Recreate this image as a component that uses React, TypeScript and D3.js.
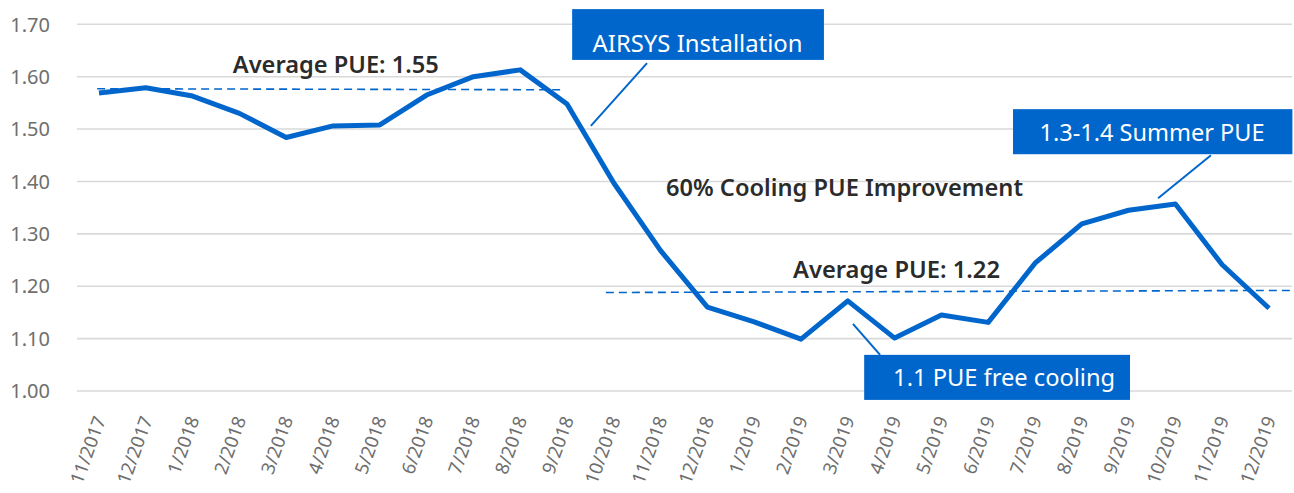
import React from "react";
import * as d3 from "d3";

const months = [
  "11/2017", "12/2017", "1/2018", "2/2018", "3/2018", "4/2018", "5/2018", "6/2018",
  "7/2018", "8/2018", "9/2018", "10/2018", "11/2018", "12/2018", "1/2019", "2/2019",
  "3/2019", "4/2019", "5/2019", "6/2019", "7/2019", "8/2019", "9/2019", "10/2019",
  "11/2019", "12/2019",
];
const pue = [
  1.569, 1.579, 1.563, 1.530, 1.484, 1.506, 1.508, 1.565, 1.600, 1.613, 1.548, 1.397,
  1.268, 1.160, 1.132, 1.099, 1.172, 1.101, 1.145, 1.131, 1.244, 1.319, 1.345, 1.357,
  1.241, 1.158,
];
const yTicks = [1.0, 1.1, 1.2, 1.3, 1.4, 1.5, 1.6, 1.7];

// average lines: [startIndex, startValue, endIndex, endValue]
const avgLines = [
  [-0.04, 1.577, 9.91, 1.575],
  [10.83, 1.188, 25.53, 1.192],
];
const avgLabels = ["Average PUE: 1.55", "Average PUE: 1.22"];
const noteLabel = "60% Cooling PUE Improvement";
const calloutLabels = ["AIRSYS Installation", "1.3-1.4 Summer PUE", "1.1 PUE free cooling"];

const W = 1294;
const H = 493;
const BLUE = "#0066CC";
const FONT = "'Noto Sans', 'Open Sans', sans-serif";

export default function App() {
  const x = d3.scaleBand<string>().domain(months).range([75.6, 1292.4]).padding(0);
  const cx = (m: string) => (x(m) as number) + x.bandwidth() / 2;
  const xi = d3.scaleLinear().domain([0, months.length - 1]).range([cx(months[0]), cx(months[months.length - 1])]);
  const y = d3.scaleLinear().domain([1.0, 1.7]).range([391, 24.3]);

  const line = d3
    .line<number>()
    .x((_, i) => cx(months[i]))
    .y((d) => y(d));

  // callouts: box in (index, value) space, text center index, baseline value, leader from/to
  const callouts = [
    { label: calloutLabels[0], box: [10.11, 1.729, 15.49, 1.632], tx: 12.79, ty: 1.647, tl: 210, leader: [11.71, 1.626, 10.51, 1.506] },
    { label: calloutLabels[1], box: [19.53, 1.538, 25.5, 1.452], tx: 22.5, ty: 1.477, tl: 225, leader: [23.76, 1.450, 22.63, 1.368] },
    { label: calloutLabels[2], box: [16.35, 1.069, 22.03, 0.983], tx: 19.34, ty: 1.0095, tl: 222, leader: [16.11, 1.128, 16.69, 1.069] },
  ];

  const texts = [
    { label: avgLabels[0], cxI: 5.06, v: 1.607, tl: 206 },
    { label: noteLabel, cxI: 15.93, v: 1.372, tl: 357 },
    { label: avgLabels[1], cxI: 17.04, v: 1.215, tl: 207 },
  ];

  return (
    <div style={{ position: "absolute", left: 0, top: 0 }}>
      <svg width={W} height={H} style={{ display: "block", background: "#fff" }} fontFamily={FONT}>
        {yTicks.map((t) => (
          <line key={"g" + t} x1={77} x2={1292} y1={y(t)} y2={y(t)} stroke="#D9D9D9" strokeWidth={1.6} />
        ))}
        {yTicks.map((t) => (
          <text key={"yl" + t} x={50} y={y(t)} dy="0.36em" textAnchor="end" fontSize={20} fill="#6E6E6E">
            {t.toFixed(2)}
          </text>
        ))}
        {months.map((m) => (
          <text
            key={"xl" + m}
            transform={`translate(${cx(m) + 1},${417}) rotate(-70)`}
            textAnchor="end"
            dy="0.35em"
            fontSize={18.5}
            fill="#6E6E6E"
          >
            {m}
          </text>
        ))}
        {avgLines.map((a, i) => (
          <line
            key={"a" + i}
            x1={xi(a[0])}
            y1={y(a[1])}
            x2={xi(a[2])}
            y2={y(a[3])}
            stroke={BLUE}
            strokeWidth={1.6}
            strokeDasharray="8,5"
          />
        ))}
        <path d={line(pue) as string} fill="none" stroke={BLUE} strokeWidth={5} strokeLinejoin="round" />
        {texts.map((t, i) => (
          <text
            key={"t" + i}
            x={xi(t.cxI)}
            y={y(t.v)}
            textAnchor="middle"
            fontSize={23}
            fontWeight={600}
            fill="#2B2B2B"
            textLength={t.tl}
            lengthAdjust="spacingAndGlyphs"
          >
            {t.label}
          </text>
        ))}
        {callouts.map((c, i) => (
          <g key={"c" + i}>
            <line
              x1={xi(c.leader[0])}
              y1={y(c.leader[1])}
              x2={xi(c.leader[2])}
              y2={y(c.leader[3])}
              stroke={BLUE}
              strokeWidth={2}
            />
            <rect
              x={xi(c.box[0])}
              y={y(c.box[1])}
              width={xi(c.box[2]) - xi(c.box[0])}
              height={y(c.box[3]) - y(c.box[1])}
              fill={BLUE}
            />
            <text
              x={xi(c.tx)}
              y={y(c.ty)}
              textAnchor="middle"
              fontSize={24}
              fill="#fff"
              textLength={c.tl}
              lengthAdjust="spacingAndGlyphs"
            >
              {c.label}
            </text>
          </g>
        ))}
      </svg>
    </div>
  );
}
